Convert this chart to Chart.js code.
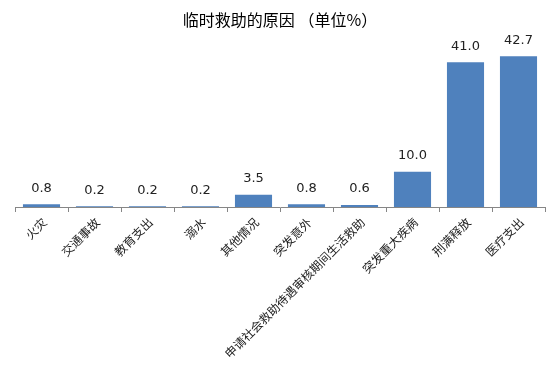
<!DOCTYPE html>
<html>
<head>
<meta charset="utf-8">
<script src="https://cdn.jsdelivr.net/npm/chart.js@4/dist/chart.umd.min.js"></script>
<style>
html,body{margin:0;padding:0;background:#fff;}
#wrap{width:560px;height:372px;position:relative;}
</style>
</head>
<body>
<div id="wrap"><canvas id="c" width="560" height="372"></canvas></div>
<script>
const chartTitle = "临时救助的原因 （单位%）";
const categories = ["火灾","交通事故","教育支出","溺水","其他情况","突发意外","申请社会救助待遇审核期间生活救助","突发重大疾病","刑满释放","医疗支出"];
const values = [0.8,0.2,0.2,0.2,3.5,0.8,0.6,10.0,41.0,42.7];

const valueLabels = {
  id: 'valueLabels',
  afterDatasetsDraw(chart) {
    const ctx = chart.ctx;
    const meta = chart.getDatasetMeta(0);
    ctx.save();
    ctx.font = '13px "DejaVu Sans"';
    ctx.fillStyle = '#222';
    ctx.textAlign = 'center';
    ctx.textBaseline = 'middle';
    meta.data.forEach((bar, i) => {
      ctx.fillText(values[i].toFixed(1), bar.x, bar.y - 16);
    });
    ctx.restore();
  }
};

new Chart(document.getElementById('c'), {
  type: 'bar',
  data: {
    labels: categories,
    datasets: [{
      data: values,
      backgroundColor: '#4f81bd',
      borderWidth: 0,
      barPercentage: 0.7,
      categoryPercentage: 1.0
    }]
  },
  options: {
    responsive: false,
    animation: false,
    layout: { padding: { left: 15, right: 15, top: 0, bottom: 0 } },
    plugins: {
      legend: { display: false },
      tooltip: { enabled: false },
      title: {
        display: true,
        text: chartTitle,
        color: '#000',
        font: { family: '"Noto Sans CJK SC"', size: 16, weight: 'normal' },
        padding: { top: 10, bottom: 19 }
      }
    },
    scales: {
      x: {
        grid: { drawOnChartArea: false, drawTicks: true, tickLength: 5, color: '#868686', offset: true },
        border: { color: '#868686' },
        ticks: {
          maxRotation: 45, minRotation: 45, autoSkip: false,
          color: '#222',
          font: { family: '"Noto Sans CJK SC"', size: 12 },
          padding: 3,
          labelOffset: 3
        },
        afterFit(scale) { scale.height = 165; }
      },
      y: {
        display: false,
        min: 0,
        max: 45
      }
    }
  },
  plugins: [valueLabels]
});
</script>
</body>
</html>
